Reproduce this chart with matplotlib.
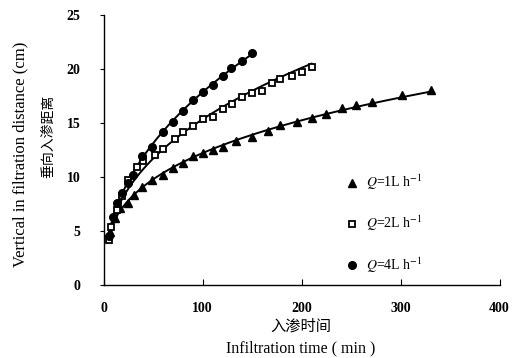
import numpy as np
from matplotlib import pyplot as plt

# Q = 1 L/h (triangles)
t1 = [6, 11, 16, 24, 31, 39, 49, 60, 70, 80, 90, 100, 110, 120, 134, 150, 166, 178, 195, 210, 225, 241, 255, 271, 301, 331]
v1 = [4.9, 6.2, 7.1, 7.6, 8.3, 9.1, 9.7, 10.2, 10.8, 11.3, 11.9, 12.2, 12.5, 12.8, 13.3, 13.7, 14.3, 14.8, 15.1, 15.5, 15.8, 16.4, 16.7, 16.9, 17.6, 18.1]
# Q = 2 L/h (open squares)
t2 = [5, 7, 13, 18, 24, 34, 40, 52, 60, 72, 80, 90, 100, 110, 120, 130, 140, 150, 160, 170, 178, 190, 200, 210]
v2 = [4.2, 5.4, 6.9, 8.2, 9.7, 10.9, 11.5, 12.0, 12.6, 13.5, 14.2, 14.7, 15.4, 15.6, 16.3, 16.8, 17.4, 17.8, 18.0, 18.7, 19.1, 19.4, 19.7, 20.2]
# Q = 4 L/h (filled circles)
t4 = [5, 9, 13, 18, 24, 29, 39, 49, 60, 70, 80, 90, 100, 110, 120, 129, 140, 150]
v4 = [4.5, 6.3, 7.6, 8.5, 9.4, 10.2, 11.9, 12.8, 14.2, 15.1, 16.1, 17.1, 17.9, 18.5, 19.4, 20.1, 20.7, 21.5]

labels = [r'$Q$=1L h$^{-1}$', r'$Q$=2L h$^{-1}$', r'$Q$=4L h$^{-1}$']

plt.rcParams['font.family'] = ['Liberation Serif', 'Noto Sans CJK SC']
plt.rcParams['mathtext.fontset'] = 'stix'

fig = plt.figure(figsize=(5.27, 3.58), dpi=100)
ax = fig.add_axes([0.197, 0.204, 0.751, 0.754])

series = [
    (t1, v1, dict(marker='^', ms=5.5, mfc='black', mec='black')),
    (t2, v2, dict(marker='s', ms=5, mfc='white', mec='black', mew=1.3)),
    (t4, v4, dict(marker='o', ms=5.5, mfc='black', mec='black')),
]

handles = []
for (t, v, style), lab in zip(series, labels):
    t = np.array(t, dtype=float)
    v = np.array(v, dtype=float)
    # power-law fit line through the measured points
    b, a = np.polyfit(np.log(t), np.log(v), 1)
    tt = np.linspace(t[0], t[-1], 200)
    ax.plot(tt, np.exp(a) * tt**b, color='black', lw=1.4, zorder=2)
    h, = ax.plot(t, v, ls='none', zorder=3, **style)
    handles.append(h)

ax.set_xlim(0, 400)
ax.set_ylim(0, 25)
ax.set_xticks([0, 100, 200, 300, 400])
ax.set_yticks([0, 5, 10, 15, 20, 25])
for s in ['top', 'right']:
    ax.spines[s].set_visible(False)
ax.spines['left'].set_linewidth(1.0)
ax.spines['bottom'].set_linewidth(1.0)
ax.tick_params(axis='x', direction='in', length=4, pad=12)
ax.tick_params(axis='y', direction='out', length=3, pad=14)
for lbl in ax.get_xticklabels() + ax.get_yticklabels():
    lbl.set_fontweight('bold')
    lbl.set_fontsize(10)

fig.text(0.57, 0.088, '入渗时间', ha='center', va='center', fontsize=11,
         family=['Noto Sans CJK SC'])
fig.text(0.57, 0.028, 'Infiltration time ( min )', ha='center', va='center', fontsize=11.5)
fig.text(0.038, 0.57, 'Vertical in filtration distance (cm)', rotation=90,
         ha='center', va='center', fontsize=12)
fig.text(0.092, 0.62, '垂向入渗距离', rotation=90, ha='center', va='center', fontsize=10,
         family=['Noto Sans CJK SC'])

ax.legend(handles, labels, loc='upper left', bbox_to_anchor=(0.614, 0.415),
          frameon=False, fontsize=10, handlelength=0.8, handletextpad=0.6,
          labelspacing=1.55, borderpad=0, borderaxespad=0)

fig.savefig('out.png', dpi=100)
